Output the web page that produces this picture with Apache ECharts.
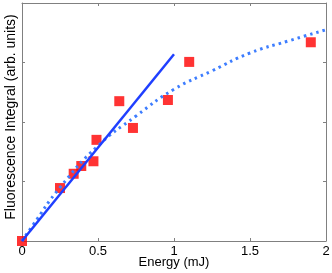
<!DOCTYPE html>
<html><head><meta charset="utf-8">
<script src="https://cdn.jsdelivr.net/npm/echarts@6/dist/echarts.min.js"></script>
<style>html,body{margin:0;padding:0;background:#fff}#c{width:332px;height:273px}</style>
</head><body><div id="c"></div>
<script>
const energy = [0, 0.25, 0.34, 0.39, 0.47, 0.49, 0.64, 0.73, 0.96, 1.10, 1.90];
const fluor  = [0, 0.89, 1.13, 1.26, 1.34, 1.70, 2.35, 1.90, 2.37, 3.01, 3.34];
const linFitX = [0, 1.0];
const linFitY = [0, 3.14];
const satFitX = [0, 0.07, 0.25, 0.5, 0.75, 1.0, 1.25, 1.5, 1.75, 2.0];
const satFitY = [0, 0.26, 0.9, 1.6, 2.1, 2.55, 2.86, 3.16, 3.36, 3.55];
const xTicks = [0, 0.5, 1, 1.5, 2];

const zip = (a, b) => a.map((v, i) => [v, b[i]]);
const chart = echarts.init(document.getElementById('c'), null, {renderer: 'canvas'});
const font = 'Liberation Sans, Arial, sans-serif';
const axisCol = '#808080';
chart.setOption({
  animation: false,
  grid: {left: 22, right: 6, top: 3, bottom: 32, containLabel: false, outerBoundsMode: 'none'},
  xAxis: [{
    type: 'value', min: 0, max: 2, interval: 0.5,
    name: 'Energy (mJ)', nameLocation: 'middle', nameGap: 15, nameMoveOverlap: false,
    nameTextStyle: {fontFamily: font, fontSize: 13, color: '#000'},
    axisLine: {onZero: false, lineStyle: {color: axisCol, width: 1}},
    axisTick: {inside: true, length: 3, lineStyle: {color: axisCol}},
    axisLabel: {fontFamily: font, fontSize: 13, color: '#000', margin: 4,
      formatter: v => xTicks.includes(v) ? String(v) : ''},
    splitLine: {show: false}
  }, {
    type: 'value', min: 0, max: 2, interval: 0.5, position: 'top',
    axisLine: {onZero: false, lineStyle: {color: axisCol, width: 1}},
    axisTick: {inside: true, length: 3, lineStyle: {color: axisCol}},
    axisLabel: {show: false}, splitLine: {show: false}
  }],
  yAxis: [{
    type: 'value', min: 0, max: 4, interval: 1,
    name: 'Fluorescence Integral (arb. units)', nameLocation: 'middle', nameGap: 4,
    nameRotate: 90, nameMoveOverlap: false,
    nameTextStyle: {fontFamily: font, fontSize: 14, color: '#000', verticalAlign: 'bottom', padding: [0, 0, 0, 10]},
    axisLine: {onZero: false, lineStyle: {color: axisCol, width: 1}},
    axisTick: {inside: true, length: 3, lineStyle: {color: axisCol}},
    axisLabel: {show: false}, splitLine: {show: false}
  }, {
    type: 'value', min: 0, max: 4, interval: 1, position: 'right',
    axisLine: {onZero: false, lineStyle: {color: axisCol, width: 1}},
    axisTick: {inside: true, length: 3, lineStyle: {color: axisCol}},
    axisLabel: {show: false}, splitLine: {show: false}
  }],
  series: [{
    type: 'scatter', data: zip(energy, fluor), symbol: 'rect', symbolSize: 10,
    itemStyle: {color: '#ff0000'}, z: 2
  }, {
    type: 'line', data: zip(satFitX, satFitY), smooth: true, showSymbol: false,
    lineStyle: {color: '#3d7dff', width: 3, type: [2.5, 4], cap: 'butt'}, z: 3
  }, {
    type: 'line', data: zip(linFitX, linFitY), showSymbol: false,
    lineStyle: {color: '#1f3fff', width: 2.5}, z: 4
  }]
});
</script></body></html>
